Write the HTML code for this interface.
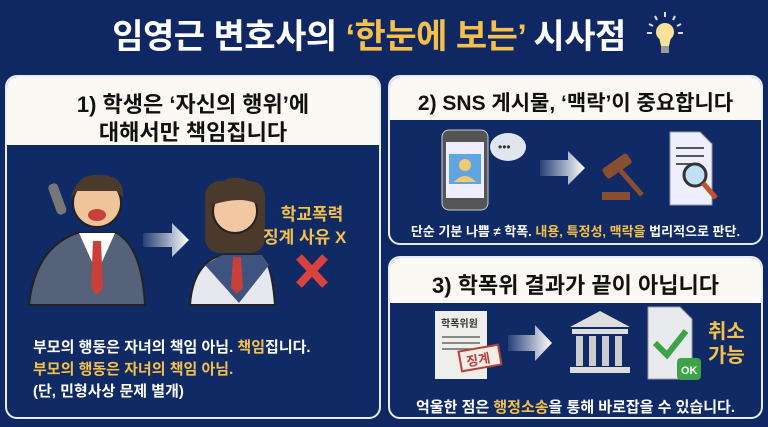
<!DOCTYPE html>
<html><head><meta charset="utf-8"><style>
*{margin:0;padding:0;box-sizing:border-box}
body{width:768px;height:427px;background:#0f2763;font-family:"Liberation Sans","Noto Sans CJK KR",sans-serif;position:relative;overflow:hidden}
.t{position:absolute;white-space:nowrap;font-weight:bold}
.panel{position:absolute;border:2px solid #e8ecf4;border-radius:12px;background:#102a66;overflow:hidden}
.hd{position:absolute;left:0;right:0;top:0;background:#fbf9f3;color:#111}
.y{color:#f5c04a}
</style></head><body>
<div class="t" style="left:0;width:768px;text-align:center;top:9px;font-size:34px;color:#fff;letter-spacing:-0.5px">임영근 변호사의 <span class="y">‘한눈에 보는’</span> 시사점<span style="display:inline-block;width:30px"></span></div>
<svg style="position:absolute;left:645px;top:10px" width="40" height="45"><g stroke="#ddd" stroke-width="2"><line x1="20" y1="2" x2="20" y2="7"/><line x1="10" y1="6" x2="12" y2="10"/><line x1="30" y1="6" x2="28" y2="10"/><line x1="4" y1="14" x2="8" y2="16"/><line x1="36" y1="14" x2="32" y2="16"/><line x1="2" y1="23" x2="7" y2="23"/><line x1="38" y1="23" x2="33" y2="23"/></g><circle cx="20" cy="22" r="9" fill="#fde09a"/><path d="M14 27 L26 27 L24 36 L16 36Z" fill="#fde09a"/><rect x="16" y="36" width="8" height="7" fill="#999"/></svg>

<div class="panel" style="left:5px;top:75px;width:376px;height:344px">
 <div class="hd" style="height:68px"></div>
 <div class="t" style="left:0;right:0;text-align:center;top:10px;font-size:22px;color:#111">1) 학생은 ‘자신의 행위’에</div>
 <div class="t" style="left:0;right:0;text-align:center;top:38px;font-size:22px;color:#111">대해서만 책임집니다</div>
 <svg style="position:absolute;left:0;top:68px" width="376" height="200">
  <defs><linearGradient id="ar" x1="0" x2="1"><stop offset="0" stop-color="#fff" stop-opacity="0.1"/><stop offset="1" stop-color="#fff"/></linearGradient></defs>
  <g transform="translate(0,48)">
  <path d="M22 112 Q28 55 70 40 L110 40 Q135 55 138 112Z" fill="#56627a" stroke="#222" stroke-width="2"/>
  <path d="M72 40 L90 80 L108 40Z" fill="#fff"/><path d="M86 48 L94 48 L96 95 L90 102 L84 95Z" fill="#c9403a"/>
  <circle cx="90" cy="10" r="24" fill="#f0c49a" stroke="#222" stroke-width="2"/>
  <path d="M64 5 Q70 -20 92 -18 Q118 -18 116 5 L110 -2 L70 -2Z" fill="#4b3a2c"/>
  <ellipse cx="90" cy="22" rx="9" ry="6" fill="#c9403a"/>
  <rect x="45" y="-10" width="10" height="32" rx="4" fill="#777" transform="rotate(-20 50 5)"/>
  <path d="M136 40 L165 40 L165 30 L182 47 L165 64 L165 54 L136 54Z" fill="url(#ar)"/>
  <path d="M183 112 Q186 70 215 62 L255 62 Q265 72 268 112Z" fill="#e6e8ee" stroke="#222" stroke-width="2"/>
  <path d="M198 72 L232 110 L262 72 L255 62 L215 62Z" fill="#3e5380"/>
  <path d="M226 64 L234 64 L236 95 L230 101 L224 95Z" fill="#c9403a"/>
  <rect x="198" y="-12" width="60" height="72" rx="15" fill="#4b3a2c"/>
  <circle cx="228" cy="18" r="22" fill="#f2c8a2" stroke="#222" stroke-width="2"/>
  <path d="M205 12 Q210 -18 230 -15 Q250 -15 252 12 Q235 2 205 12Z" fill="#4b3a2c"/>
  </g>
  <g stroke="#d9433e" stroke-width="8"><line x1="292" y1="112" x2="318" y2="140"/><line x1="318" y1="112" x2="292" y2="140"/></g>
 </svg>
 <div class="t y" style="left:260px;top:123px;font-size:17px;text-align:center;width:90px">학교폭력</div>
 <div class="t y" style="left:256px;top:146px;font-size:17px">징계 사유 X</div>
 <div class="t" style="left:26px;top:259px;font-size:15px;color:#fff">부모의 행동은 자녀의 책임 아님. <span class="y">책임</span>집니다.</div>
 <div class="t y" style="left:26px;top:281px;font-size:15px">부모의 행동은 자녀의 책임 아님.</div>
 <div class="t" style="left:26px;top:303px;font-size:15px;color:#fff">(단, 민형사상 문제 별개)</div>
</div>

<div class="panel" style="left:388px;top:75px;width:375px;height:170px">
 <div class="hd" style="height:43px"></div>
 <div class="t" style="left:0;right:0;text-align:center;top:10px;font-size:21px;color:#111">2) SNS 게시물, ‘맥락’이 중요합니다</div>
 <svg style="position:absolute;left:0;top:43px" width="375" height="100">
  <rect x="52" y="10" width="46" height="80" rx="7" fill="#555" stroke="#ccc"/><rect x="56" y="22" width="38" height="56" fill="#eef"/><rect x="59" y="34" width="32" height="30" fill="#5fa6e0"/><circle cx="75" cy="45" r="6" fill="#f5c770"/><path d="M64 62 Q75 50 86 62Z" fill="#f5c770"/>
  <ellipse cx="118" cy="27" rx="18" ry="14" fill="#dfe6f0"/><text x="108" y="31" fill="#333" font-size="12">•••</text>
  <path d="M150 40 L178 40 L178 31 L195 48 L178 65 L178 56 L150 56Z" fill="url(#ar)"/>
  <rect x="212" y="40" width="30" height="12" rx="3" fill="#8a4f30" transform="rotate(-35 227 46)"/><line x1="230" y1="50" x2="252" y2="75" stroke="#8a4f30" stroke-width="5"/><rect x="212" y="72" width="28" height="8" fill="#8a4f30"/>
  <path d="M280 12 L310 12 L322 24 L322 85 L280 85Z" fill="#eef" stroke="#999"/><g stroke="#555" stroke-width="2"><line x1="286" y1="28" x2="314" y2="28"/><line x1="286" y1="36" x2="314" y2="36"/><line x1="286" y1="44" x2="304" y2="44"/></g>
  <circle cx="305" cy="55" r="11" fill="#bfe0f5" stroke="#333" stroke-width="3"/><line x1="313" y1="63" x2="326" y2="78" stroke="#c0532e" stroke-width="5"/>
 </svg>
 <div class="t" style="left:0;right:0;text-align:center;top:144px;font-size:13px;color:#fff">단순 기분 나쁨 ≠ 학폭. <span class="y">내용, 특정성, 맥락을</span> 법리적으로 판단.</div>
</div>

<div class="panel" style="left:388px;top:256px;width:375px;height:163px">
 <div class="hd" style="height:45px"></div>
 <div class="t" style="left:0;right:0;text-align:center;top:10px;font-size:22px;color:#111">3) 학폭위 결과가 끝이 아닙니다</div>
 <svg style="position:absolute;left:0;top:45px" width="375" height="80">
  <rect x="45" y="8" width="52" height="68" fill="#eeeeea"/><text x="51" y="24" font-size="10" fill="#333" font-weight="bold" font-family="Noto Sans CJK KR">학폭위원</text><g stroke="#666" stroke-width="1.5"><line x1="52" y1="34" x2="90" y2="34"/><line x1="52" y1="40" x2="90" y2="40"/><line x1="52" y1="46" x2="82" y2="46"/></g>
  <rect x="70" y="45" width="40" height="20" fill="#f6ece6" stroke="#b5403a" stroke-width="2" transform="rotate(-10 90 55)"/><text x="76" y="61" font-size="13" fill="#b5403a" font-weight="bold" font-family="Noto Sans CJK KR" transform="rotate(-10 90 55)">징계</text>
  <path d="M118 32 L145 32 L145 22 L162 40 L145 58 L145 48 L118 48Z" fill="url(#ar)"/>
  <path d="M180 24 L210 8 L240 24Z" fill="#ddd"/><rect x="182" y="26" width="56" height="5" fill="#ddd"/><g fill="#ccc"><rect x="186" y="33" width="7" height="30"/><rect x="199" y="33" width="7" height="30"/><rect x="212" y="33" width="7" height="30"/><rect x="225" y="33" width="7" height="30"/></g><rect x="180" y="64" width="60" height="6" fill="#ddd"/>
  <path d="M258 4 L290 4 L302 16 L302 76 L258 76Z" fill="#e8eaee" stroke="#999"/><path d="M265 40 L277 52 L296 28" fill="none" stroke="#3ea346" stroke-width="6"/><rect x="287" y="55" width="24" height="22" rx="4" fill="#3ea346"/><text x="291" y="71" font-size="11" fill="#fff" font-weight="bold">OK</text>
 </svg>
 <div class="t y" style="left:318px;top:62px;font-size:20px;line-height:24px">취소<br>가능</div>
 <div class="t" style="left:0;right:0;text-align:center;top:138px;font-size:15px;color:#fff">억울한 점은 <span class="y">행정소송</span>을 통해 바로잡을 수 있습니다.</div>
</div>
</body></html>
